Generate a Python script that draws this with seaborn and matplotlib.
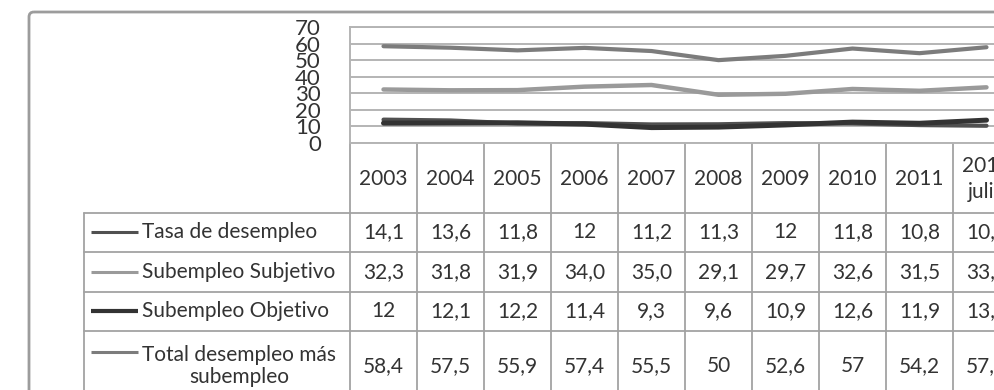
import matplotlib
matplotlib.use("Agg")
import matplotlib.pyplot as plt
import matplotlib.transforms as mtransforms
from matplotlib import font_manager
from matplotlib.patches import FancyBboxPatch
import pandas as pd
import seaborn as sns

# ---- data -------------------------------------------------------------
years = ["2003", "2004", "2005", "2006", "2007", "2008", "2009", "2010", "2011", "2012\njulio"]
series_names = [
    "Tasa de desempleo",
    "Subempleo Subjetivo",
    "Subempleo Objetivo",
    "Total desempleo más\nsubempleo",
]
tasa_desempleo = ["14,1", "13,6", "11,8", "12", "11,2", "11,3", "12", "11,8", "10,8", "10,4"]
subempleo_subjetivo = ["32,3", "31,8", "31,9", "34,0", "35,0", "29,1", "29,7", "32,6", "31,5", "33,6"]
subempleo_objetivo = ["12", "12,1", "12,2", "11,4", "9,3", "9,6", "10,9", "12,6", "11,9", "13,8"]
total_desempleo_subempleo = ["58,4", "57,5", "55,9", "57,4", "55,5", "50", "52,6", "57", "54,2", "57,8"]
y_ticks = [0, 10, 20, 30, 40, 50, 60, 70]

table_rows = [tasa_desempleo, subempleo_subjetivo, subempleo_objetivo, total_desempleo_subempleo]


def to_number(txt):
    return float(txt.replace(",", "."))


records = []
for name, row in zip(series_names, table_rows):
    for year, txt in zip(years, row):
        records.append({"anio": year, "serie": name, "valor": to_number(txt)})
df = pd.DataFrame(records)

# ---- style ------------------------------------------------------------
sns.set_theme(style="white")
plt.rcParams["font.family"] = ["Lato", "DejaVu Sans"]
installed = {f.name for f in font_manager.fontManager.ttflist}
tick_family = "Liberation Sans Narrow" if "Liberation Sans Narrow" in installed else "Lato"
TEXT = "#333333"
GRID = "#b4b4b4"
RULE = "#a2a2a2"
FS = 15

# plot line style and legend-key style per series
line_colors = ["#505050", "#9a9a9a", "#333333", "#7c7c7c"]
line_widths = [3.0, 3.2, 3.6, 3.0]
key_widths = [2.2, 2.2, 3.0, 2.2]
line_order = [1, 3, 0, 2]  # drawing order (later = on top)

W, H = 994, 390
fig = plt.figure(figsize=(W / 100, H / 100), dpi=100)
fig.patch.set_facecolor("white")

# overlay in pixel units for frame and table
ov = fig.add_axes([0, 0, 1, 1])
ov.set_xlim(0, W)
ov.set_ylim(H, 0)
ov.set_autoscale_on(False)
ov.axis("off")
ov.patch.set_visible(False)

# plot area
x0, x1, y_top, y_bot = 350, 1020, 27, 143
ax = fig.add_axes([x0 / W, (H - y_bot) / H, (x1 - x0) / W, (y_bot - y_top) / H])
ax.patch.set_visible(False)

for i in line_order:
    sub = df[df["serie"] == series_names[i]]
    sns.lineplot(data=sub, x="anio", y="valor", ax=ax, sort=False,
                 color=line_colors[i], linewidth=line_widths[i], legend=False)

ax.set_xlim(-0.5, len(years) - 0.5)
ax.set_ylim(0, 70)
ax.set_yticks(y_ticks)
ax.set_yticklabels([str(t) for t in y_ticks], fontsize=16, color=TEXT,
                   family=[tick_family, "DejaVu Sans"])
ax.set_xticks([])
ax.set_xlabel("")
ax.set_ylabel("")
ax.tick_params(axis="y", length=0, pad=21)
ax.yaxis.grid(True, color=GRID, linewidth=1.4)
ax.set_axisbelow(True)
for side in ["left", "bottom", "top"]:
    ax.spines[side].set_color(GRID)
    ax.spines[side].set_linewidth(1.4)
ax.spines["right"].set_visible(False)

# outer chart frame
frame = FancyBboxPatch((29, 12), 1200, 500,
                       boxstyle="round,pad=0,rounding_size=5",
                       facecolor="none", edgecolor="#9c9c9c", linewidth=2.0)
ov.add_patch(frame)

# ---- data table -------------------------------------------------------
trans = mtransforms.blended_transform_factory(ax.transData, ov.transData)
row_edges = [213, 252, 292, 331]
row_centers = [232, 272, 311, 366]
header_center = 179

# column rules
for k in range(len(years) + 1):
    ov.plot([k - 0.5, k - 0.5], [y_bot, H + 10], transform=trans,
            color=RULE, linewidth=1.3, clip_on=False)
# left edge of the legend column
ov.plot([84, 84], [row_edges[0], H + 10], color=RULE, linewidth=1.3)
# row rules
for y in row_edges:
    ov.plot([84, W + 40], [y, y], color=RULE, linewidth=1.3, clip_on=False)

# header years
for k, year in enumerate(years):
    ov.text(k, header_center, year, transform=trans, ha="center", va="center",
            fontsize=FS, color=TEXT, linespacing=1.4, clip_on=False)

# row headers with legend keys
for i, name in enumerate(series_names):
    yc = row_centers[i]
    ov.plot([91, 138], [yc - (14 if i == 3 else 0)] * 2,
            color=line_colors[i], linewidth=key_widths[i], solid_capstyle="butt")
    ov.text(142, yc, name, ha="left", va="center", multialignment="center",
            fontsize=FS, color=TEXT, linespacing=1.1)

# cell values
for i, row in enumerate(table_rows):
    for k, txt in enumerate(row):
        ov.text(k, row_centers[i], txt, transform=trans, ha="center", va="center",
                fontsize=FS, color=TEXT, clip_on=False)

fig.savefig("out.png", dpi=100, facecolor="white")
